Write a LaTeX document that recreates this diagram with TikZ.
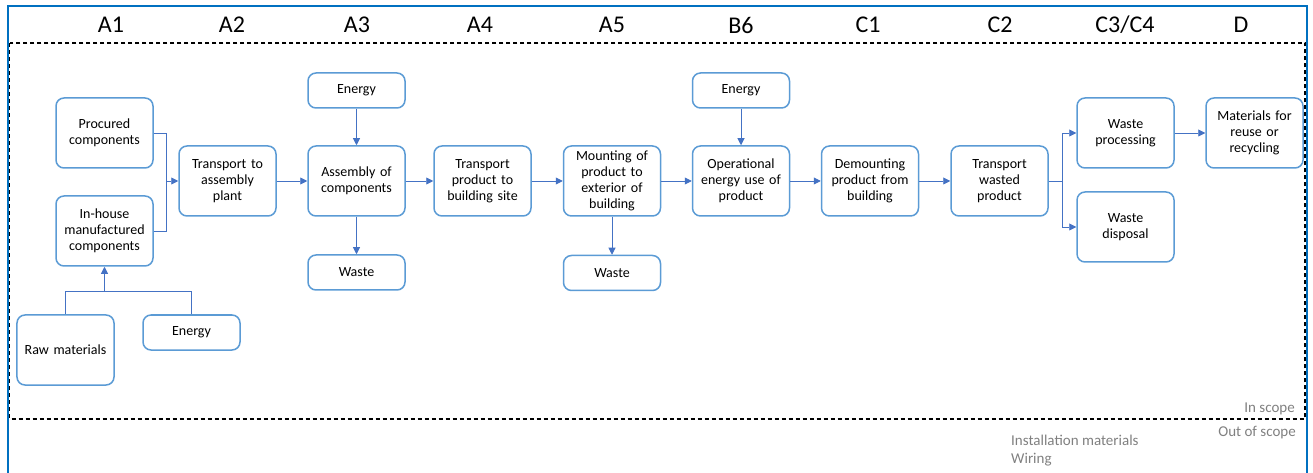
\documentclass[tikz,border=0pt]{standalone}
\usepackage{fontspec}
\setmainfont{Carlito}
\usetikzlibrary{arrows.meta}
\definecolor{frameblue}{RGB}{0,112,192}
\definecolor{boxblue}{RGB}{91,155,213}
\definecolor{arrblue}{RGB}{68,114,196}
\definecolor{labgray}{RGB}{128,128,128}
\tikzset{
  box/.style={draw=boxblue, line width=1.5bp, rounded corners=8bp, fill=white,
    minimum width=97bp, minimum height=70bp, inner sep=0pt, text width=94bp, align=center,
    font=\fontsize{14bp}{16bp}\selectfont},
  sbox/.style={box, minimum height=35bp},
  conn/.style={draw=arrblue, line width=0.9bp},
  arr/.style={conn, -{Triangle[length=7bp,width=7bp]}},
  col/.style={font=\fontsize{24bp}{28bp}\selectfont},
  note/.style={text=labgray, font=\fontsize{15bp}{18bp}\selectfont, inner sep=0pt}
}
\begin{document}
\begin{tikzpicture}[x=1bp,y=-1bp]
\useasboundingbox (0,0) rectangle (1313,473);
% outer frame
\draw[frameblue, line width=2bp] (7.5,480) -- (7.5,6) -- (1307,6) -- (1307,480);
% scope box
\draw[black, line width=1.3bp, dash pattern=on 4bp off 3bp] (9.5,43) rectangle (1305,419);
% column labels
\node[col] (cA1) at (111,25) {A1};
\node[col] (cA2) at (232,25) {A2};
\node[col] (cA3) at (357,25) {A3};
\node[col] (cA4) at (480,25) {A4};
\node[col] (cA5) at (612,25) {A5};
\node[col] (cB6) at (741,25) {B6};
\node[col] (cC1) at (868,25) {C1};
\node[col] (cC2) at (1000,25) {C2};
\node[col] (cC3) at (1125,25) {C3/C4};
\node[col] (cD) at (1241,25) {D};
% nodes
\node[box] (proc) at (104.5,133) {Procured\\components};
\node[box] (inh) at (104.5,231) {In-house\\manufactured\\components};
\node[box] (raw) at (65.5,350) {Raw materials};
\node[sbox] (en1) at (191.5,332.5) {Energy};
\node[box] (tap) at (227.5,181) {Transport to\\assembly\\plant};
\node[sbox] (en3) at (356.5,90.5) {Energy};
\node[box] (asm) at (356.5,181) {Assembly of\\components};
\node[sbox] (w3) at (356.5,272.5) {Waste};
\node[box] (tp) at (482.5,181) {Transport\\product to\\building site};
\node[box] (mnt) at (612,181) {Mounting of\\product to\\exterior of\\building};
\node[sbox] (w5) at (612,273) {Waste};
\node[sbox] (en6) at (741,90.5) {Energy};
\node[box] (op) at (741,181) {Operational\\energy use of\\product};
\node[box] (dem) at (870,181) {Demounting\\product from\\building};
\node[box] (tw) at (999.5,181) {Transport\\wasted\\product};
\node[box] (wp) at (1125.5,133) {Waste\\processing};
\node[box] (wd) at (1125.5,227) {Waste\\disposal};
\node[box] (mat) at (1254.5,133) {Materials for\\reuse or\\recycling};
% junctions
\coordinate (j1) at (166,181);
\coordinate (j2) at (104.5,291);
\coordinate (j3) at (1062,181);
% connectors
\draw[conn] (proc.east) -| (j1);
\draw[conn] (inh.east) -| (j1);
\draw[arr] (j1) -- (tap.west);
\draw[conn] (raw.north) |- (j2);
\draw[conn] (en1.north) |- (j2);
\draw[arr] (j2) -- (inh.south);
\draw[arr] (tap.east) -- (asm.west);
\draw[arr] (en3.south) -- (asm.north);
\draw[arr] (asm.south) -- (w3.north);
\draw[arr] (asm.east) -- (tp.west);
\draw[arr] (tp.east) -- (mnt.west);
\draw[arr] (mnt.south) -- (w5.north);
\draw[arr] (mnt.east) -- (op.west);
\draw[arr] (en6.south) -- (op.north);
\draw[arr] (op.east) -- (dem.west);
\draw[arr] (dem.east) -- (tw.west);
\draw[conn] (tw.east) -- (j3);
\draw[arr] (j3) |- (wp.west);
\draw[arr] (j3) |- (wd.west);
\draw[arr] (wp.east) -- (mat.west);
% scope notes
\node[note, anchor=base east] (ins) at (1295,412) {In scope};
\node[note, anchor=base east] (outs) at (1296,436) {Out of scope};
\node[note, anchor=base west] (inst) at (1011,445) {Installation materials};
\node[note, anchor=base west] (wir) at (1011,463) {Wiring};
\end{tikzpicture}
\end{document}
